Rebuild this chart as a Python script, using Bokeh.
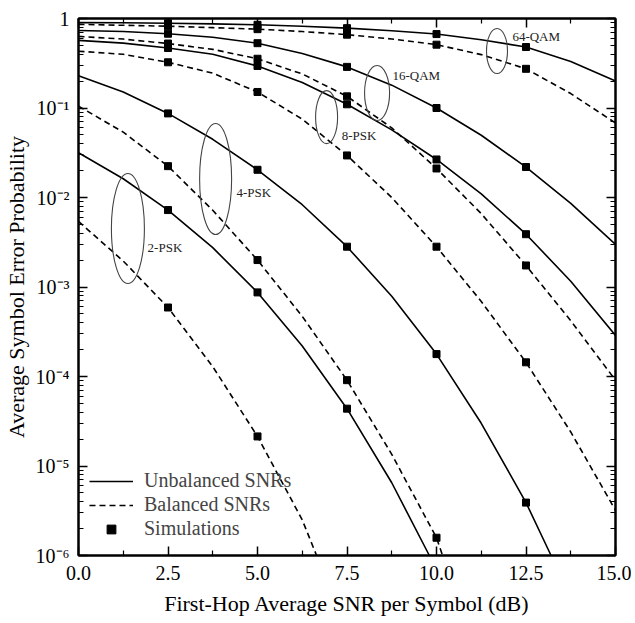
from bokeh.plotting import figure
from bokeh.models import (LinearAxis, LogAxis, FixedTicker, PrintfTickFormatter,
                          Legend, LegendItem, Range1d, CustomJSTickFormatter)
from bokeh.core.properties import value
from bokeh.embed import file_html
from bokeh.resources import INLINE

# ---------------- data ----------------
snr = [0, 1.25, 2.5, 3.75, 5, 6.25, 7.5, 8.75, 10, 11.25, 12.5, 13.75, 15]

# 64-QAM
qam64_unbal = [0.90, 0.895, 0.885, 0.87, 0.85, 0.82, 0.78, 0.73, 0.67, 0.58, 0.48, 0.33, 0.20]
qam64_bal = [0.86, 0.84, 0.82, 0.79, 0.76, 0.715, 0.66, 0.59, 0.51, 0.395, 0.274, 0.145, 0.068]
# 16-QAM
qam16_unbal = [0.735, 0.716, 0.676, 0.617, 0.53, 0.407, 0.288, 0.18, 0.10, 0.0496, 0.0219, 8.6e-3, 3.0e-3]
qam16_bal = [0.631, 0.589, 0.525, 0.452, 0.355, 0.24, 0.135, 0.06, 0.0211, 6.6e-3, 1.74e-3, 4.2e-4, 9.1e-5]
# 8-PSK
psk8_unbal = [0.569, 0.531, 0.468, 0.398, 0.295, 0.193, 0.110, 0.0569, 0.0266, 0.011, 3.89e-3, 1.16e-3, 2.88e-4]
psk8_bal = [0.431, 0.398, 0.324, 0.245, 0.151, 0.075, 0.0295, 0.010, 2.82e-3, 6.9e-4, 1.44e-4, 2.4e-5, 3.2e-6]
# 4-PSK
psk4_unbal_snr = [0, 1.25, 2.5, 3.75, 5, 6.25, 7.5, 8.75, 10, 11.25, 12.5, 13.2]
psk4_unbal = [0.229, 0.151, 0.087, 0.0447, 0.0204, 8.3e-3, 2.82e-3, 7.9e-4, 1.78e-4, 3.0e-5, 3.9e-6, 1e-6]
psk4_bal_snr = [0, 1.25, 2.5, 3.75, 5, 6.25, 7.5, 8.75, 10, 10.17]
psk4_bal = [0.105, 0.0537, 0.0224, 7.2e-3, 2.0e-3, 4.7e-4, 9.1e-5, 1.35e-5, 1.58e-6, 1e-6]
# 2-PSK
psk2_unbal_snr = [0, 1.25, 2.5, 3.75, 5, 6.25, 7.5, 8.75, 9.8]
psk2_unbal = [0.0316, 0.0162, 7.24e-3, 2.75e-3, 8.7e-4, 2.19e-4, 4.37e-5, 6.5e-6, 1e-6]
psk2_bal_snr = [0, 1.25, 2.5, 3.75, 5, 6.25, 6.65]
psk2_bal = [5.4e-3, 1.95e-3, 5.9e-4, 1.29e-4, 2.14e-5, 2.5e-6, 1e-6]

sim_snr = [2.5, 5, 7.5, 10, 12.5]

x_ticks = [0, 2.5, 5, 7.5, 10, 12.5, 15]
x_minor = [1.25, 3.75, 6.25, 8.75, 11.25, 13.75]
y_ticks = [1e-6, 1e-5, 1e-4, 1e-3, 1e-2, 1e-1, 1]
y_tick_labels = ["10\u207b\u2076", "10\u207b\u2075", "10\u207b\u2074", "10\u207b\u00b3",
                 "10\u207b\u00b2", "10\u207b\u00b9", "1"]

group_names = ["2-PSK", "4-PSK", "8-PSK", "16-QAM", "64-QAM"]
label_x = [1.93, 4.41, 7.35, 8.77, 12.12]
label_y = [2.76e-3, 0.0114, 0.0493, 0.231, 0.629]
ell_x = [1.38, 3.83, 6.93, 8.34, 11.69]
ell_y = [4.5e-3, 0.0161, 0.079, 0.147, 0.433]
ell_w = [33, 32, 22, 25, 21]
ell_h = [110, 111, 53, 55, 45]

# ---------------- figure ----------------
FONT = "Liberation Serif"
p = figure(x_range=Range1d(0, 15), y_range=Range1d(1e-6, 1), y_axis_type="log",
           frame_width=537, frame_height=537, output_backend="svg", toolbar_location=None,
           min_border_left=60, min_border_top=18, min_border_right=16, min_border_bottom=60,
           background_fill_color="white", border_fill_color="white")
p.grid.visible = False
p.outline_line_color = "black"
p.outline_line_width = 2

y_minor = [m * 10.0 ** d for d in range(-6, 0) for m in range(2, 10)]


def style_axis(ax):
    ax.axis_line_width = 2
    ax.axis_line_color = "black"
    ax.major_tick_in = 9
    ax.major_tick_out = 0
    ax.minor_tick_in = 5
    ax.minor_tick_out = 0
    ax.major_tick_line_width = 1.5
    ax.minor_tick_line_width = 1.2
    ax.major_tick_line_color = "black"
    ax.minor_tick_line_color = "black"
    ax.major_label_text_font = FONT
    ax.major_label_text_font_size = "20px"
    ax.major_label_text_color = "black"
    ax.axis_label_text_font = FONT
    ax.axis_label_text_font_size = "22px"
    ax.axis_label_text_font_style = "normal"
    ax.axis_label_text_color = "black"


xa = p.xaxis[0]
xa.ticker = FixedTicker(ticks=x_ticks, minor_ticks=x_minor)
xa.formatter = PrintfTickFormatter(format="%.1f")
xa.axis_label = "First-Hop Average SNR per Symbol (dB)"
style_axis(xa)
xa.major_label_standoff = 10
xa.axis_label_standoff = 8

ya = p.yaxis[0]
ya.ticker = FixedTicker(ticks=y_ticks, minor_ticks=y_minor)
ya.major_label_overrides = {t: s for t, s in zip(y_ticks, y_tick_labels)}
ya.axis_label = "Average Symbol Error Probability"
style_axis(ya)
ya.major_label_standoff = 9
ya.axis_label_standoff = 4

blank = CustomJSTickFormatter(code="return ''")
top = LinearAxis(ticker=FixedTicker(ticks=x_ticks, minor_ticks=x_minor), formatter=blank)
style_axis(top)
top.major_label_standoff = 0
p.add_layout(top, "above")
right = LogAxis(ticker=FixedTicker(ticks=y_ticks, minor_ticks=y_minor), formatter=blank)
style_axis(right)
right.major_label_standoff = 0
p.add_layout(right, "right")

# ---------------- curves ----------------
curves = [
    (snr, qam64_unbal, "solid"), (snr, qam64_bal, "dashed"),
    (snr, qam16_unbal, "solid"), (snr, qam16_bal, "dashed"),
    (snr, psk8_unbal, "solid"), (snr, psk8_bal, "dashed"),
    (psk4_unbal_snr, psk4_unbal, "solid"), (psk4_bal_snr, psk4_bal, "dashed"),
    (psk2_unbal_snr, psk2_unbal, "solid"), (psk2_bal_snr, psk2_bal, "dashed"),
]
r_solid = r_dash = None
sx, sy = [], []
for xs, ys, kind in curves:
    if kind == "solid":
        r = p.line(xs, ys, line_color="black", line_width=1.6)
        r_solid = r
    else:
        r = p.line(xs, ys, line_color="black", line_width=1.6, line_dash="6 4")
        r_dash = r
    for xv, yv in zip(xs, ys):
        if xv in sim_snr and yv > 1e-6:
            sx.append(xv)
            sy.append(yv)

r_sim = p.scatter(sx, sy, marker="square", size=7, fill_color="black", line_color="black")

# ---------------- annotations ----------------
p.ellipse(x=ell_x, y=ell_y, width=ell_w, height=ell_h, width_units="screen",
          height_units="screen", fill_color=None, line_color="#444444", line_width=1.1)
p.text(x=label_x, y=label_y, text=group_names, text_font=value(FONT), text_font_size="13px",
       text_baseline="middle", text_align="left", text_color="#222222")

legend = Legend(items=[LegendItem(label="Unbalanced SNRs", renderers=[r_solid]),
                       LegendItem(label="Balanced SNRs", renderers=[r_dash]),
                       LegendItem(label="Simulations", renderers=[r_sim])],
                location=(11, 15), border_line_color=None, background_fill_alpha=0,
                label_text_font=FONT, label_text_font_size="20px", glyph_width=44,
                glyph_height=22, label_height=22, spacing=1, padding=5, margin=0,
                label_standoff=11)
p.add_layout(legend)

open("out.html", "w").write(file_html(p, INLINE))
